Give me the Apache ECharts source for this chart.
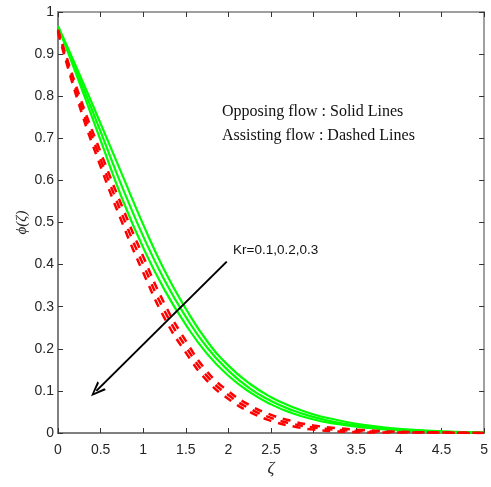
<!DOCTYPE html>
<html>
<head>
<meta charset="utf-8">
<script src="https://cdn.jsdelivr.net/npm/echarts@6/dist/echarts.min.js"></script>
<style>html,body{margin:0;padding:0;background:#fff}#c{width:491px;height:487px}</style>
</head>
<body>
<div id="c"></div>
<script>
const zeta = [0,0.25,0.5,0.75,1,1.25,1.5,1.75,2,2.25,2.5,2.75,3,3.25,3.5,3.75,4,4.5,5];
// Opposing flow (solid, green), Kr = 0.1, 0.2, 0.3
const oppKr01 = [0.966,0.853,0.735,0.615,0.495,0.386,0.295,0.218,0.16,0.117,0.085,0.062,0.044,0.032,0.022,0.015,0.010,0.004,0.001];
const oppKr02 = [0.966,0.843,0.716,0.586,0.467,0.363,0.276,0.203,0.148,0.106,0.076,0.054,0.038,0.026,0.018,0.012,0.008,0.003,0.001];
const oppKr03 = [0.966,0.833,0.695,0.558,0.44,0.34,0.257,0.188,0.136,0.097,0.068,0.047,0.032,0.022,0.015,0.010,0.006,0.002,0.0];
// Assisting flow (dashed, red), Kr = 0.1, 0.2, 0.3
const assKr01 = [0.958,0.802,0.667,0.539,0.419,0.307,0.219,0.146,0.099,0.066,0.043,0.028,0.018,0.012,0.008,0.005,0.003,0.001,0];
const assKr02 = [0.955,0.79,0.65,0.52,0.40,0.29,0.205,0.135,0.09,0.058,0.036,0.022,0.013,0.008,0.005,0.003,0.002,0.001,0];
const assKr03 = [0.952,0.778,0.633,0.501,0.381,0.273,0.191,0.124,0.081,0.050,0.029,0.016,0.008,0.004,0.002,0.001,0.001,0.001,0];
// Arrow annotation (data coordinates)
const arrowFrom = [1.98, 0.407];
const arrowTo = [0.45, 0.10];

const pair = arr => zeta.map((z,i)=>[z,arr[i]]);
const axisColor = '#808080';
const labelStyle = {color:'#262626', fontSize:14, fontFamily:'Liberation Sans, Arial, sans-serif'};

const greenS = (arr) => ({type:'line', data:pair(arr), smooth:true, symbol:'none', z:3,
  lineStyle:{color:'#00ff00', width:2.2}});
const redS = (arr) => ({type:'line', data:pair(arr), smooth:true, symbol:'none', z:4,
  lineStyle:{color:'#ff0000', width:2.5, type:[8,7], cap:'butt'}});

const chart = echarts.init(document.getElementById('c'), null, {renderer:'canvas'});
chart.setOption({
  animation:false,
  backgroundColor:'#fff',
  grid:{left:58, right:4, top:12, bottom:54},
  xAxis:[
    {type:'value', min:0, max:5, interval:0.5, position:'bottom',
     name:'ζ', nameLocation:'middle', nameGap:27, nameMoveOverlap:false,
     nameTextStyle:{fontFamily:'Liberation Serif, serif', fontStyle:'italic', fontSize:17, color:'#262626'},
     axisLine:{onZero:false, lineStyle:{color:axisColor, width:2}},
     axisTick:{show:true, inside:true, length:5, lineStyle:{color:'#333', width:1}},
     axisLabel:Object.assign({margin:10}, labelStyle),
     splitLine:{show:false}},
    {type:'value', min:0, max:5, interval:0.5, position:'top',
     axisLine:{onZero:false, lineStyle:{color:axisColor, width:1.5}},
     axisTick:{show:true, inside:true, length:5, lineStyle:{color:'#333', width:1}},
     axisLabel:{show:false}, splitLine:{show:false}}
  ],
  yAxis:[
    {type:'value', min:0, max:1, interval:0.1, position:'left',
     name:'ϕ(ζ)', nameLocation:'middle', nameGap:28, nameRotate:90, nameMoveOverlap:false,
     nameTextStyle:{fontFamily:'Liberation Serif, serif', fontStyle:'italic', fontSize:15, color:'#262626'},
     axisLine:{onZero:false, lineStyle:{color:axisColor, width:2}},
     axisTick:{show:true, inside:true, length:5, lineStyle:{color:'#333', width:1}},
     axisLabel:Object.assign({margin:4}, labelStyle),
     splitLine:{show:false}},
    {type:'value', min:0, max:1, interval:0.1, position:'right',
     axisLine:{onZero:false, lineStyle:{color:axisColor, width:1.5}},
     axisTick:{show:true, inside:true, length:5, lineStyle:{color:'#333', width:1}},
     axisLabel:{show:false}, splitLine:{show:false}}
  ],
  series:[
    greenS(oppKr01), greenS(oppKr02), greenS(oppKr03),
    redS(assKr01), redS(assKr02), redS(assKr03),
    {type:'line', data:[], z:10, silent:true,
     markLine:{silent:true, animation:false,
       symbol:['none','path://M50,0 L100,100 L82,100 L50,30 L18,100 L0,100 Z'],
       symbolSize:[12,15],
       label:{show:false},
       lineStyle:{color:'#000', width:2, type:'solid'},
       data:[[{coord:arrowFrom},{coord:arrowTo}]]}}
  ],
  graphic:[
    {type:'text', left:222, top:104, style:{text:'Opposing flow : Solid Lines', font:'16px "Liberation Serif", serif', fill:'#111'}},
    {type:'text', left:222, top:128, style:{text:'Assisting flow : Dashed Lines', font:'16px "Liberation Serif", serif', fill:'#111'}},
    {type:'text', left:233, top:243, style:{text:'Kr=0.1,0.2,0.3', font:'13.5px "Liberation Sans", Arial, sans-serif', fill:'#111'}}
  ]
});
</script>
</body>
</html>
